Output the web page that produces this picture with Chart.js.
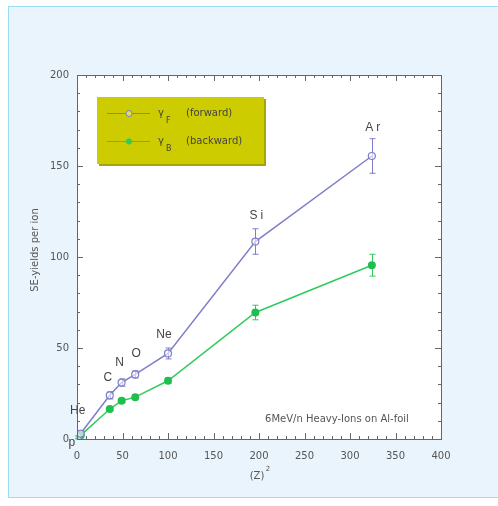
<!DOCTYPE html>
<html>
<head>
<meta charset="utf-8">
<script src="https://cdn.jsdelivr.net/npm/chart.js@4.4.0/dist/chart.umd.min.js"></script>
<style>
  html, body { margin: 0; padding: 0; background: #ffffff; }
  #wrap { position: relative; width: 498px; height: 506px; overflow: hidden; }
  #frame {
    position: absolute; left: 8px; top: 6px; width: 500px; height: 490px;
    background: #eaf4fc; border: 1px solid #9adcf5;
  }
  #myChart { position: absolute; left: 0; top: 0; }
</style>
</head>
<body>
<div id="wrap">
  <div id="frame"></div>
  <canvas id="myChart" width="498" height="506"></canvas>
</div>
<script>
const ions = ["p", "He", "C", "N", "O", "Ne", "Si", "Ar"]
const z2 = [1, 4, 36, 49, 64, 100, 196, 324]
const yieldF = [1, 3, 24, 31, 35.5, 47, 108.5, 155.5]
const errF = [0.8, 1.2, 2, 2, 2, 3, 7, 9.5]
const yieldB = [0.6, 2, 16.5, 21, 23, 32, 69.5, 95.5]
const errB = [0.5, 0.8, 1, 1, 1, 1.5, 4, 6]
const xTicks = [0, 50, 100, 150, 200, 250, 300, 350, 400]
const yTicks = [0, 50, 100, 150, 200]

const BLUE = "#7e7eca"
const GREEN = "#2fcc5c"
const FONT = "'DejaVu Sans', Verdana, sans-serif"
const LFONT = "'Liberation Sans', Arial, sans-serif"

// pixel offsets of the ion labels from the forward point
const labelOffsets = [[-6, 6], [-3, -23], [-2, -18], [-2, -20], [1, -21], [-4, -19], [1, -26], [1, -28]]

const toPoints = (ys) => z2.map((x, i) => ({ x: x, y: ys[i] }))

const plotPlugin = {
  id: "plotDecor",
  beforeDatasetsDraw(chart) {
    const { ctx, scales: { x, y } } = chart
    ctx.save()
    // error bars
    chart.data.datasets.forEach((ds) => {
      ctx.strokeStyle = ds.borderColor
      ctx.lineWidth = 1
      ds.data.forEach((p, i) => {
        const e = ds.errors[i]
        const px = Math.round(x.getPixelForValue(p.x)) + 0.5
        const top = y.getPixelForValue(p.y + e)
        const bot = y.getPixelForValue(p.y - e)
        ctx.beginPath()
        ctx.moveTo(px, top); ctx.lineTo(px, bot)
        ctx.moveTo(px - 3, top); ctx.lineTo(px + 3, top)
        ctx.moveTo(px - 3, bot); ctx.lineTo(px + 3, bot)
        ctx.stroke()
      })
    })
    ctx.restore()
  },
  beforeDraw(chart) {
    const { ctx, chartArea: a } = chart
    ctx.save()
    ctx.fillStyle = "#ffffff"
    ctx.fillRect(a.left, a.top, a.right - a.left, a.bottom - a.top)
    ctx.restore()
  },
  afterDraw(chart) {
    const { ctx, chartArea: a, scales: { x, y } } = chart
    ctx.save()
    // frame + inward ticks
    ctx.strokeStyle = "#666666"
    ctx.lineWidth = 1
    ctx.strokeRect(Math.round(a.left) + 0.5, Math.round(a.top) + 0.5, Math.round(a.right - a.left), Math.round(a.bottom - a.top))
    ctx.beginPath()
    for (let v = 0; v <= 400; v += 10) {
      const px = Math.round(x.getPixelForValue(v)) + 0.5
      const len = v % 50 === 0 ? 6 : 3
      ctx.moveTo(px, a.bottom); ctx.lineTo(px, a.bottom - len)
      ctx.moveTo(px, a.top); ctx.lineTo(px, a.top + len)
    }
    for (let v = 0; v <= 200; v += 10) {
      const py = Math.round(y.getPixelForValue(v)) + 0.5
      const len = v % 50 === 0 ? 6 : 3
      ctx.moveTo(a.left, py); ctx.lineTo(a.left + len, py)
      ctx.moveTo(a.right, py); ctx.lineTo(a.right - len, py)
    }
    ctx.stroke()

    // ion labels
    ctx.fillStyle = "#444444"
    ctx.font = "12px " + LFONT
    ctx.textAlign = "center"
    ctx.textBaseline = "middle"
    ions.forEach((ion, i) => {
      const px = x.getPixelForValue(z2[i]) + labelOffsets[i][0]
      const py = y.getPixelForValue(yieldF[i]) + labelOffsets[i][1]
      if (ion === "Si" || ion === "Ar") {
        ctx.letterSpacing = "3px"
        ctx.fillText(ion, px + 1.5, py)
        ctx.letterSpacing = "0px"
      } else {
        ctx.fillText(ion, px, py)
      }
    })

    // note
    ctx.font = "10px " + FONT
    ctx.fillStyle = "#555555"
    ctx.fillText("6MeV/n Heavy-Ions on Al-foil", 337, 419)

    // axis titles
    ctx.fillText("(Z)", 257, 476)
    ctx.font = "7px " + FONT
    ctx.fillText("2", 268, 469)
    ctx.font = "10px " + FONT
    ctx.save()
    ctx.translate(35, 250)
    ctx.rotate(-Math.PI / 2)
    ctx.fillText("SE-yields per ion", 0, 0)
    ctx.restore()

    // legend
    ctx.fillStyle = "#a6a600"
    ctx.fillRect(99, 99, 167, 67)
    ctx.fillStyle = "#cccc00"
    ctx.fillRect(97, 97, 167, 67)
    const entries = [
      { y: 113, color: BLUE, open: true, sub: "F", text: "(forward)" },
      { y: 141, color: GREEN, open: false, sub: "B", text: "(backward)" },
    ]
    entries.forEach((e) => {
      ctx.strokeStyle = e.color
      ctx.lineWidth = 1
      ctx.beginPath()
      ctx.moveTo(107, e.y + 0.5); ctx.lineTo(150, e.y + 0.5)
      ctx.stroke()
      ctx.beginPath()
      ctx.arc(129, e.y + 0.5, 3, 0, Math.PI * 2)
      if (e.open) {
        ctx.fillStyle = "#dddd66"; ctx.fill(); ctx.stroke()
      } else {
        ctx.fillStyle = e.color; ctx.fill()
      }
      ctx.fillStyle = "#444444"
      ctx.textAlign = "left"
      ctx.font = "10px " + FONT
      ctx.fillText("γ", 158, e.y)
      ctx.font = "8px " + FONT
      ctx.fillText(e.sub, 166, e.y + 8)
      ctx.font = "10px " + FONT
      ctx.fillText(e.text, 186, e.y)
    })
    ctx.restore()
  },
}

const config = {
  type: "scatter",
  data: {
    datasets: [
      {
        label: "γF (forward)",
        data: toPoints(yieldF),
        errors: errF,
        showLine: true,
        borderColor: BLUE,
        backgroundColor: "#ffffff",
        borderWidth: 1.5,
        pointRadius: 3.5,
        pointBorderWidth: 1.2,
        pointBorderColor: BLUE,
        pointBackgroundColor: "rgba(255,255,255,0.6)",
      },
      {
        label: "γB (backward)",
        data: toPoints(yieldB),
        errors: errB,
        showLine: true,
        borderColor: GREEN,
        backgroundColor: GREEN,
        borderWidth: 1.5,
        pointRadius: 4,
        pointBorderWidth: 0,
        pointBackgroundColor: "#1fbf4f",
      },
    ],
  },
  options: {
    responsive: false,
    animation: false,
    layout: { padding: { left: 20, right: 57, top: 75, bottom: 20 } },
    plugins: { legend: { display: false }, tooltip: { enabled: false } },
    scales: {
      x: {
        type: "linear",
        min: 0,
        max: 400,
        afterBuildTicks: (s) => { s.ticks = xTicks.map((v) => ({ value: v })) },
        afterFit: (s) => { s.height = 47 },
        grid: { display: false },
        border: { display: false },
        ticks: { color: "#555555", font: { family: FONT, size: 10 }, padding: 3 },
      },
      y: {
        type: "linear",
        min: 0,
        max: 200,
        afterBuildTicks: (s) => { s.ticks = yTicks.map((v) => ({ value: v })) },
        afterFit: (s) => { s.width = 57 },
        grid: { display: false },
        border: { display: false },
        ticks: { color: "#555555", font: { family: FONT, size: 10 }, padding: 0 },
      },
    },
  },
  plugins: [plotPlugin],
}

var myChart = new Chart(document.getElementById("myChart").getContext("2d"), config)
</script>
</body>
</html>
